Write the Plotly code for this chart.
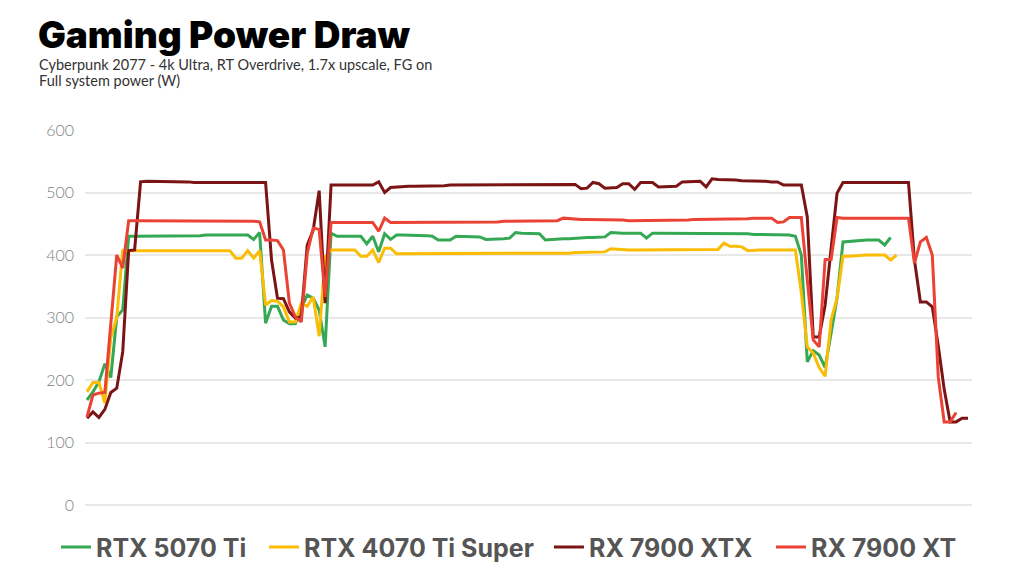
import plotly.graph_objects as go

# ---- data (system power, W; one sample per step) ----
rx7900xtx = [139,149,140,153,180,187,245,407,408,517,
 518,518,517,517,517,517,517,517,516,516,
 516,516,516,516,515,515,515,515,515,516,
 516,392,331,330,309,299,301,416,440,503,
 323,512,512,511,511,511,511,511,512,517,
 500,508,509,509,510,510,510,511,511,511,
 511,512,512,512,512,512,513,513,513,513,
 513,513,513,513,513,513,513,513,513,513,
 513,513,513,506,507,516,514,507,507,508,
 514,514,505,516,516,516,509,509,510,510,
 517,517,518,518,509,522,521,521,520,520,
 519,519,518,518,518,517,517,512,512,512,
 512,461,269,269,320,410,499,516,516,516,
 516,516,516,516,516,516,516,516,516,392,
 325,325,317,255,185,133,133,139,139]

rx7900xt = [141,176,179,180,290,400,379,455,455,455,
 455,455,455,455,455,455,454,454,454,454,
 454,454,454,454,454,454,454,454,454,453,
 424,424,423,408,323,301,293,403,443,441,
 333,452,452,452,452,452,452,452,452,438,
 459,452,452,452,452,452,452,452,452,452,
 453,453,453,453,453,453,453,453,453,453,
 454,454,454,454,454,454,454,455,455,455,
 459,458,458,457,457,457,456,456,456,456,
 456,455,455,455,455,455,455,456,456,456,
 456,456,457,457,457,457,458,458,458,458,
 458,458,459,459,459,459,452,453,460,460,
 460,360,264,253,393,393,460,459,459,459,
 459,459,459,459,459,459,459,459,459,387,
 421,428,400,205,133,133,148]

rtx5070ti = [168,181,197,226,204,301,312,430,430,430,
 430,430,430,430,430,430,431,431,431,431,
 432,432,432,432,432,432,432,432,425,436,
 291,318,318,296,290,290,315,336,331,312,
 253,435,430,430,430,430,430,418,430,405,
 434,425,432,432,432,432,431,431,430,424,
 424,424,430,430,430,430,429,425,425,425,
 426,427,436,435,435,434,434,424,425,425,
 426,426,427,427,428,428,429,429,436,435,
 435,435,435,435,427,435,435,435,435,435,
 435,435,435,434,434,434,434,434,434,434,
 434,434,433,433,433,433,432,432,432,430,
 400,229,247,240,220,275,331,421,422,423,
 423,424,424,424,416,428]

rtx4070tis = [181,196,196,163,268,300,407,407,407,407,
 407,407,407,406,406,406,406,406,406,406,
 406,406,406,406,407,395,395,407,395,407,
 320,327,326,317,293,293,323,318,333,270,
 397,408,408,408,408,408,398,398,408,388,
 411,411,402,402,402,402,402,402,402,402,
 402,402,402,402,402,402,402,402,402,402,
 402,402,402,402,403,403,403,403,403,403,
 403,403,404,404,404,404,405,405,410,409,
 408,408,408,408,408,408,408,408,408,408,
 408,408,409,409,409,409,409,419,414,414,
 413,407,408,408,408,408,408,408,408,408,
 340,253,243,220,206,296,331,398,398,399,
 399,400,400,400,400,392,400]

series_names = ["RTX 5070 Ti", "RTX 4070 Ti Super", "RX 7900 XTX", "RX 7900 XT"]
series_values = [rtx5070ti, rtx4070tis, rx7900xtx, rx7900xt]
series_colors = ["#34A853", "#FBBC04", "#7B1414", "#EA4335"]
y_ticks = [0, 100, 200, 300, 400, 500, 600]

legend_ids = ["legend", "legend2", "legend3", "legend4"]
legend_x = [0.0547, 0.2578, 0.5361, 0.7529]

fig = go.Figure()
for name, vals, col, lid in zip(series_names, series_values, series_colors, legend_ids):
    fig.add_trace(go.Scatter(
        x=list(range(len(vals))), y=vals, name=name, mode="lines",
        line=dict(color=col, width=3), hoverinfo="skip", legend=lid))

legend_style = dict(orientation="h", xref="container", yref="container",
                    xanchor="left", y=0.05, yanchor="middle",
                    font=dict(family="Inter", size=25, color="#555555", weight=700),
                    itemwidth=30, bgcolor="rgba(0,0,0,0)")
legends = {}
for lid, lx in zip(legend_ids, legend_x):
    legends[lid] = dict(legend_style, x=lx)

fig.update_layout(
    width=1024, height=576,
    paper_bgcolor="white", plot_bgcolor="white",
    margin=dict(l=85, r=52, t=130, b=71, autoexpand=False),
    title=dict(text="Gaming Power Draw", xref="container", yref="container",
               x=0.037, xanchor="left", y=0.962, yanchor="top",
               font=dict(family="Inter", size=37, color="#000000", weight=900)),
    showlegend=True,
    annotations=[
        dict(text="Cyberpunk 2077 - 4k Ultra, RT Overdrive, 1.7x upscale, FG on",
             xref="paper", yref="paper", x=-0.054, y=1.176, xanchor="left", yanchor="middle",
             showarrow=False, font=dict(family="Lato", size=14.5, color="#333333")),
        dict(text="Full system power (W)",
             xref="paper", yref="paper", x=-0.054, y=1.133, xanchor="left", yanchor="middle",
             showarrow=False, font=dict(family="Lato", size=14.5, color="#333333")),
    ],
    **legends,
)
fig.update_xaxes(range=[-0.336, 148.67], showgrid=False, zeroline=False,
                 showticklabels=False, ticks="", showline=False)
fig.update_yaxes(range=[0, 600], tickvals=y_ticks, showgrid=True, gridcolor="#e8e8e8",
                 gridwidth=1.5, zeroline=True, zerolinecolor="#e8e8e8", zerolinewidth=1.5,
                 showline=False, ticks="", ticklabelstandoff=10,
                 tickfont=dict(family="Lato", size=16, color="#808080", weight=300))

fig.write_html("out.html", config={"displayModeBar": False},
               post_script="document.body.style.margin='0px';")
